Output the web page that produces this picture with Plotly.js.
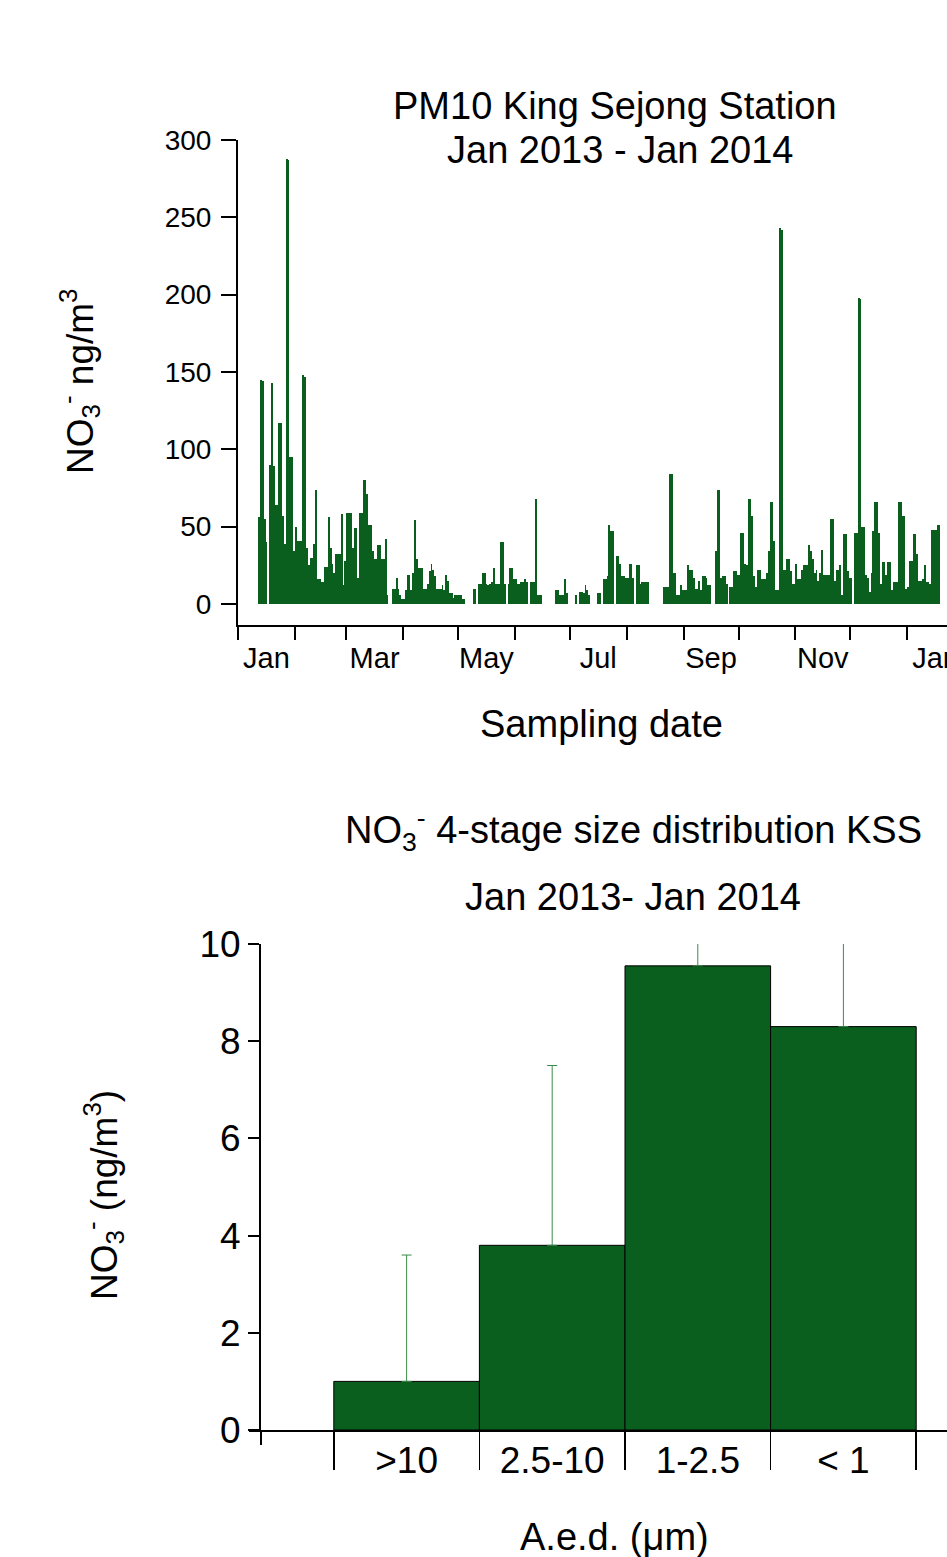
<!DOCTYPE html>
<html>
<head>
<meta charset="utf-8">
<script src="https://cdn.plot.ly/plotly-3.0.1.min.js"></script>
<style>
  html, body { margin: 0; padding: 0; width: 947px; height: 1557px; overflow: hidden; background: #fff; }
  #chart { width: 1000px; height: 1557px; }
</style>
</head>
<body>
<div id="chart"></div>
<script>
// PM10 nitrate at King Sejong Station, one value per sampling day (ng/m3), null = no sample
const firstSampleDay = [2013, 0, 12];
const nitrateDaily = [
  56, 145, 144, 55, 40, null, 90, 143, 89, 64, 64, 117, 117, 57, 39, 288, 287, 95, 95, 34,
  50, 41, 41, 41, 148, 147, 36, 25, 30, 30, 39, 74, 16, 16, 14, 14, 24, 24, 56, 36,
  26, 20, 32, 32, 32, 58, 12, 28, 59, 59, 59, 36, 49, 49, 17, 59, 59, 80, 80, 71,
  51, 51, 34, 29, 29, 38, 38, 29, 29, 42, 6, null, null, 10, 10, 17, 10, 6, 3, 3,
  9, 19, 19, 9, 20, 54, 29, 23, 23, 23, 10, 10, 13, 21, 26, 22, 18, 10, 10, 10,
  12, 9, 19, 15, 7, 7, 4, 6, 6, 6, 6, 3, 3, null, null, null, null, 10, 10, null,
  13, 13, 20, 20, 13, 12, 13, 14, 23, 13, 13, 13, 40, 40, 13, null, 13, 23, 23, 16,
  16, 13, 13, 14, 14, 16, 14, null, 14, 14, 14, 68, 6, 6, 6, null, null, null, null, null,
  null, null, 9, 9, 6, 6, 6, 16, 7, null, null, null, null, 6, null, 8, 8, 7, 12, 9,
  6, null, null, null, null, 7, 7, null, 16, 16, 18, 51, 47, 47, null, 31, 31, 26, 18, 18,
  17, 17, 26, 26, 17, null, 25, 25, 13, 14, 14, 14, 14, null, null, null, null, null, null, null,
  null, 11, 11, 11, 84, 84, 20, 20, 6, 6, 12, 9, 9, 9, 25, 22, 22, 17, 10, 10,
  15, 9, 18, 18, 17, 12, 12, null, null, 34, 74, 74, 17, 18, 18, 13, null, 11, 11, 21,
  21, 19, 19, 46, 46, 26, 25, 68, 68, 57, 18, 11, 22, 22, 16, 16, 16, 20, 34, 66,
  66, 41, 9, 9, 243, 242, 22, 22, 29, 29, 21, 13, 13, 26, 16, 16, 22, 25, 25, 25,
  38, 34, 29, 20, 22, 15, 20, 35, 19, 19, 19, 19, 55, 55, 15, 22, 22, 25, 6, 45,
  45, 21, 17, 17, null, 46, 46, 198, 197, 50, 50, 19, 17, 8, 20, 47, 66, 66, 46, 13,
  27, 27, 19, 27, 27, 9, 14, 14, 14, 66, 66, 57, 57, 10, 11, 28, 28, 45, 45, 32,
  15, 15, 16, 25, 14, 14, 13, 48, 48, 48, 51, 51
];
const nitrateTicks = [0, 50, 100, 150, 200, 250, 300];

// Four-stage impactor size distribution, annual mean and standard deviation
const sizeBins = ['>10', '2.5-10', '1-2.5', '< 1'];
const sizeMeans = [1.0, 3.8, 9.55, 8.3];
const sizeSD = [2.6, 3.7, 1.6, 2.5];

// Calendar dates for the daily series (bars centred on each day)
function pad(n) { return (n < 10 ? '0' : '') + n; }
const sampleDates = nitrateDaily.map(function (v, i) {
  const d = new Date(Date.UTC(firstSampleDay[0], firstSampleDay[1], firstSampleDay[2] + i));
  return d.getUTCFullYear() + '-' + pad(d.getUTCMonth() + 1) + '-' + pad(d.getUTCDate()) + ' 12:00';
});

const GREEN = '#0a5e1e';
const H = 1557, W = 1000;
const px = function (x) { return x / W; };
const py = function (y) { return 1 - y / H; };
const FONT = 'Liberation Sans, Arial, Helvetica, sans-serif';

const traces = [
  {
    type: 'bar',
    x: sampleDates,
    y: nitrateDaily,
    width: 86400000,
    marker: { color: GREEN, line: { width: 0 } },
    xaxis: 'x', yaxis: 'y',
    hoverinfo: 'x+y'
  },
  {
    type: 'bar',
    x: sizeBins,
    y: sizeMeans,
    width: 1,
    marker: { color: GREEN, line: { color: '#000', width: 1 } },
    error_y: {
      type: 'data', symmetric: false,
      array: sizeSD, arrayminus: sizeSD.map(function () { return 0; }),
      color: '#3b8a4a', thickness: 1, width: 5
    },
    xaxis: 'x2', yaxis: 'y2'
  }
];

const axisCommon = {
  showline: true, linecolor: '#000', linewidth: 2,
  showgrid: false, zeroline: false,
  ticks: 'outside', tickcolor: '#000', tickwidth: 2,
  fixedrange: true
};

const layout = {
  width: W, height: H,
  margin: { l: 0, r: 0, t: 0, b: 0 },
  paper_bgcolor: '#fff', plot_bgcolor: 'rgba(0,0,0,0)',
  showlegend: false,
  bargap: 0,
  font: { family: FONT, color: '#000' },
  xaxis: Object.assign({}, axisCommon, {
    domain: [px(238), px(964)], anchor: 'y',
    type: 'date', range: ['2013-01-01', '2014-02-01'],
    tick0: '2013-01-01', dtick: 'M1', tickformat: '%b',
    ticklabelmode: 'period', ticklabelstep: 2,
    ticklen: 13, tickfont: { size: 29 }, ticklabelstandoff: -7
  }),
  yaxis: Object.assign({}, axisCommon, {
    domain: [py(625), py(140)], anchor: 'x',
    range: [-13.6, 300], tickvals: nitrateTicks,
    ticklen: 15, tickfont: { size: 28 }, ticklabelstandoff: 4
  }),
  xaxis2: Object.assign({}, axisCommon, {
    domain: [px(261), px(989)], anchor: 'y2',
    type: 'category', range: [-1, 4],
    tickson: 'boundaries', ticklen: 38, tickwidth: 1.5,
    tickfont: { size: 37 }, ticklabelstandoff: -3
  }),
  yaxis2: Object.assign({}, axisCommon, {
    domain: [py(1430), py(944)], anchor: 'x2',
    range: [0, 10], dtick: 2, ticklen: 11,
    tickfont: { size: 37 }
  }),
  shapes: [
    // axis stubs where the size-distribution axes cross
    { type: 'line', xref: 'paper', yref: 'paper', x0: px(261), x1: px(261), y0: py(1430), y1: py(1445), line: { color: '#000', width: 2 } },
    { type: 'line', xref: 'paper', yref: 'paper', x0: px(249), x1: px(261), y0: py(1431), y1: py(1431), line: { color: '#000', width: 2 } }
  ],
  annotations: [
    { text: 'PM10 King Sejong Station', x: px(615), y: py(106) },
    { text: 'Jan 2013 - Jan 2014', x: px(620), y: py(150) },
    { text: 'Sampling date', x: px(601), y: py(724) },
    { text: 'NO<sub>3</sub><sup>-</sup> ng/m<sup>3</sup>', x: px(80), y: py(382), textangle: -90, font: { size: 37 } },
    { text: 'NO<sub>3</sub><sup>-</sup> 4-stage size distribution KSS', x: px(633), y: py(830) },
    { text: 'Jan 2013- Jan 2014', x: px(633), y: py(897) },
    { text: 'NO<sub>3</sub><sup>-</sup> (ng/m<sup>3</sup>)', x: px(103), y: py(1195), textangle: -90, font: { size: 37 } },
    { text: 'A.e.d. (μm)', x: px(614), y: py(1537) }
  ].map(function (a) {
    return Object.assign({
      xref: 'paper', yref: 'paper', showarrow: false,
      xanchor: 'center', yanchor: 'middle',
      font: { size: 38 }
    }, a, { font: Object.assign({ family: FONT, color: '#000', size: 38 }, a.font || {}) });
  })
};

Plotly.newPlot('chart', traces, layout, { staticPlot: true, displayModeBar: false });
</script>
</body>
</html>
